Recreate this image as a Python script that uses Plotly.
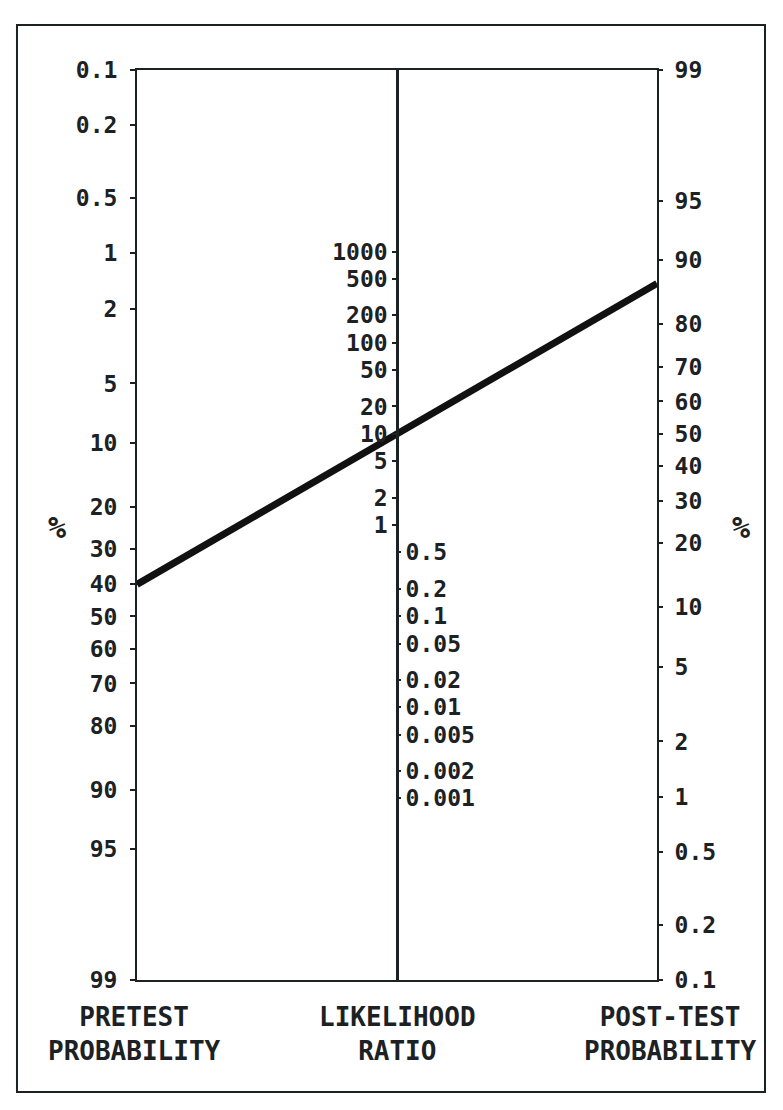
import numpy as np
import plotly.graph_objects as go

# ---- data ----
pretest_ticks = [0.1, 0.2, 0.5, 1, 2, 5, 10, 20, 30, 40, 50, 60, 70, 80, 90, 95, 99]
pretest_labels = ["0.1", "0.2", "0.5", "1", "2", "5", "10", "20", "30", "40", "50",
                  "60", "70", "80", "90", "95", "99"]
posttest_ticks = [99, 95, 90, 80, 70, 60, 50, 40, 30, 20, 10, 5, 2, 1, 0.5, 0.2, 0.1]
posttest_labels = ["99", "95", "90", "80", "70", "60", "50", "40", "30", "20", "10",
                   "5", "2", "1", "0.5", "0.2", "0.1"]
lr_high_ticks = [1000, 500, 200, 100, 50, 20, 10, 5, 2, 1]
lr_high_labels = ["1000", "500", "200", "100", "50", "20", "10", "5", "2", "1"]
lr_low_ticks = [0.5, 0.2, 0.1, 0.05, 0.02, 0.01, 0.005, 0.002, 0.001]
lr_low_labels = ["0.5", "0.2", "0.1", "0.05", "0.02", "0.01", "0.005", "0.002", "0.001"]

example_pretest = 40     # %
example_lr = 10

P_MIN, P_MAX = 0.1, 99   # % scale ends


def logit(p_pct):
    p = np.asarray(p_pct, dtype=float) / 100.0
    return np.log(p / (1 - p))


K = logit(P_MIN) + logit(P_MAX)


def y_pre(p):
    return -logit(p) + K


def y_post(p):
    return logit(p)


def y_lr(lr):
    return (np.log(np.asarray(lr, dtype=float)) + K) / 2


post_odds = np.exp(logit(example_pretest)) * example_lr
example_post = 100 * post_odds / (1 + post_odds)

yr = [float(logit(P_MIN)), float(logit(P_MAX))]

INK = "#1c2124"
FONT = "DejaVu Sans Mono"

fig = go.Figure()

# example line through the nomogram
fig.add_trace(go.Scatter(
    x=[0, 1], y=[float(y_pre(example_pretest)), float(y_post(example_post))],
    mode="lines", line=dict(color="#111111", width=7),
    hoverinfo="skip", showlegend=False))

# dummy traces so the overlay axes are drawn
for ax in ["y2", "y3", "y4"]:
    fig.add_trace(go.Scatter(x=[0.5], y=[0], yaxis=ax, mode="markers",
                             marker=dict(opacity=0), hoverinfo="skip",
                             showlegend=False))

tickfont = dict(family=FONT, size=23, color=INK, weight="bold")

common = dict(range=yr, showgrid=False, zeroline=False, fixedrange=True,
              tickfont=tickfont, tickcolor=INK, tickwidth=2)

fig.update_layout(
    width=775, height=1102, autosize=False,
    paper_bgcolor="white", plot_bgcolor="white",
    margin=dict(l=129, r=126, t=62, b=130),
    xaxis=dict(range=[0, 1], showgrid=False, zeroline=False, showticklabels=False,
               ticks="", showline=True, mirror=True, linecolor=INK, linewidth=2),
    yaxis=dict(**common, tickvals=[float(v) for v in y_pre(pretest_ticks)],
               ticktext=pretest_labels, ticks="outside", ticklen=5,
               ticklabelstandoff=8,
               showline=True, mirror=True, linecolor=INK, linewidth=2),
    yaxis2=dict(**common, overlaying="y", side="right", anchor="x",
                tickvals=[float(v) for v in y_post(posttest_ticks)],
                ticktext=posttest_labels, ticks="outside", ticklen=5,
                ticklabelstandoff=7, showline=False),
    yaxis3=dict(**common, overlaying="y", anchor="free", position=0.5, side="left",
                tickvals=[float(v) for v in y_lr(lr_high_ticks)],
                ticktext=lr_high_labels, ticks="outside", ticklen=4,
                ticklabelstandoff=0,
                showline=True, linecolor=INK, linewidth=2.5),
    yaxis4=dict(**common, overlaying="y", anchor="free", position=0.5, side="right",
                tickvals=[float(v) for v in y_lr(lr_low_ticks)],
                ticktext=lr_low_labels, ticks="outside", ticklen=3,
                ticklabelstandoff=0, showline=False),
    showlegend=False,
)

titlefont = dict(family=FONT, size=26, color=INK, weight="bold")
for x, txt in [(-0.004, "PRETEST<br>PROBABILITY"),
               (0.5, "LIKELIHOOD<br>RATIO"),
               (1.025, "POST-TEST<br>PROBABILITY")]:
    fig.add_annotation(x=x, y=-0.0593, xref="paper", yref="paper", text=txt,
                       showarrow=False, font=titlefont, align="center",
                       xanchor="center", yanchor="middle")

for x in [-0.1538, 1.1615]:
    fig.add_annotation(x=x, y=0.4978, xref="paper", yref="paper", text="%",
                       showarrow=False,
                       font=dict(family=FONT, size=30, color=INK, weight="bold"),
                       xanchor="center", yanchor="middle")

# outer frame
fig.add_shape(type="rect", xref="paper", yref="paper",
              x0=-0.2308, x1=1.2077, y0=-0.1231, y1=1.0495,
              line=dict(color=INK, width=2), fillcolor="rgba(0,0,0,0)")

fig.write_html("out.html")
